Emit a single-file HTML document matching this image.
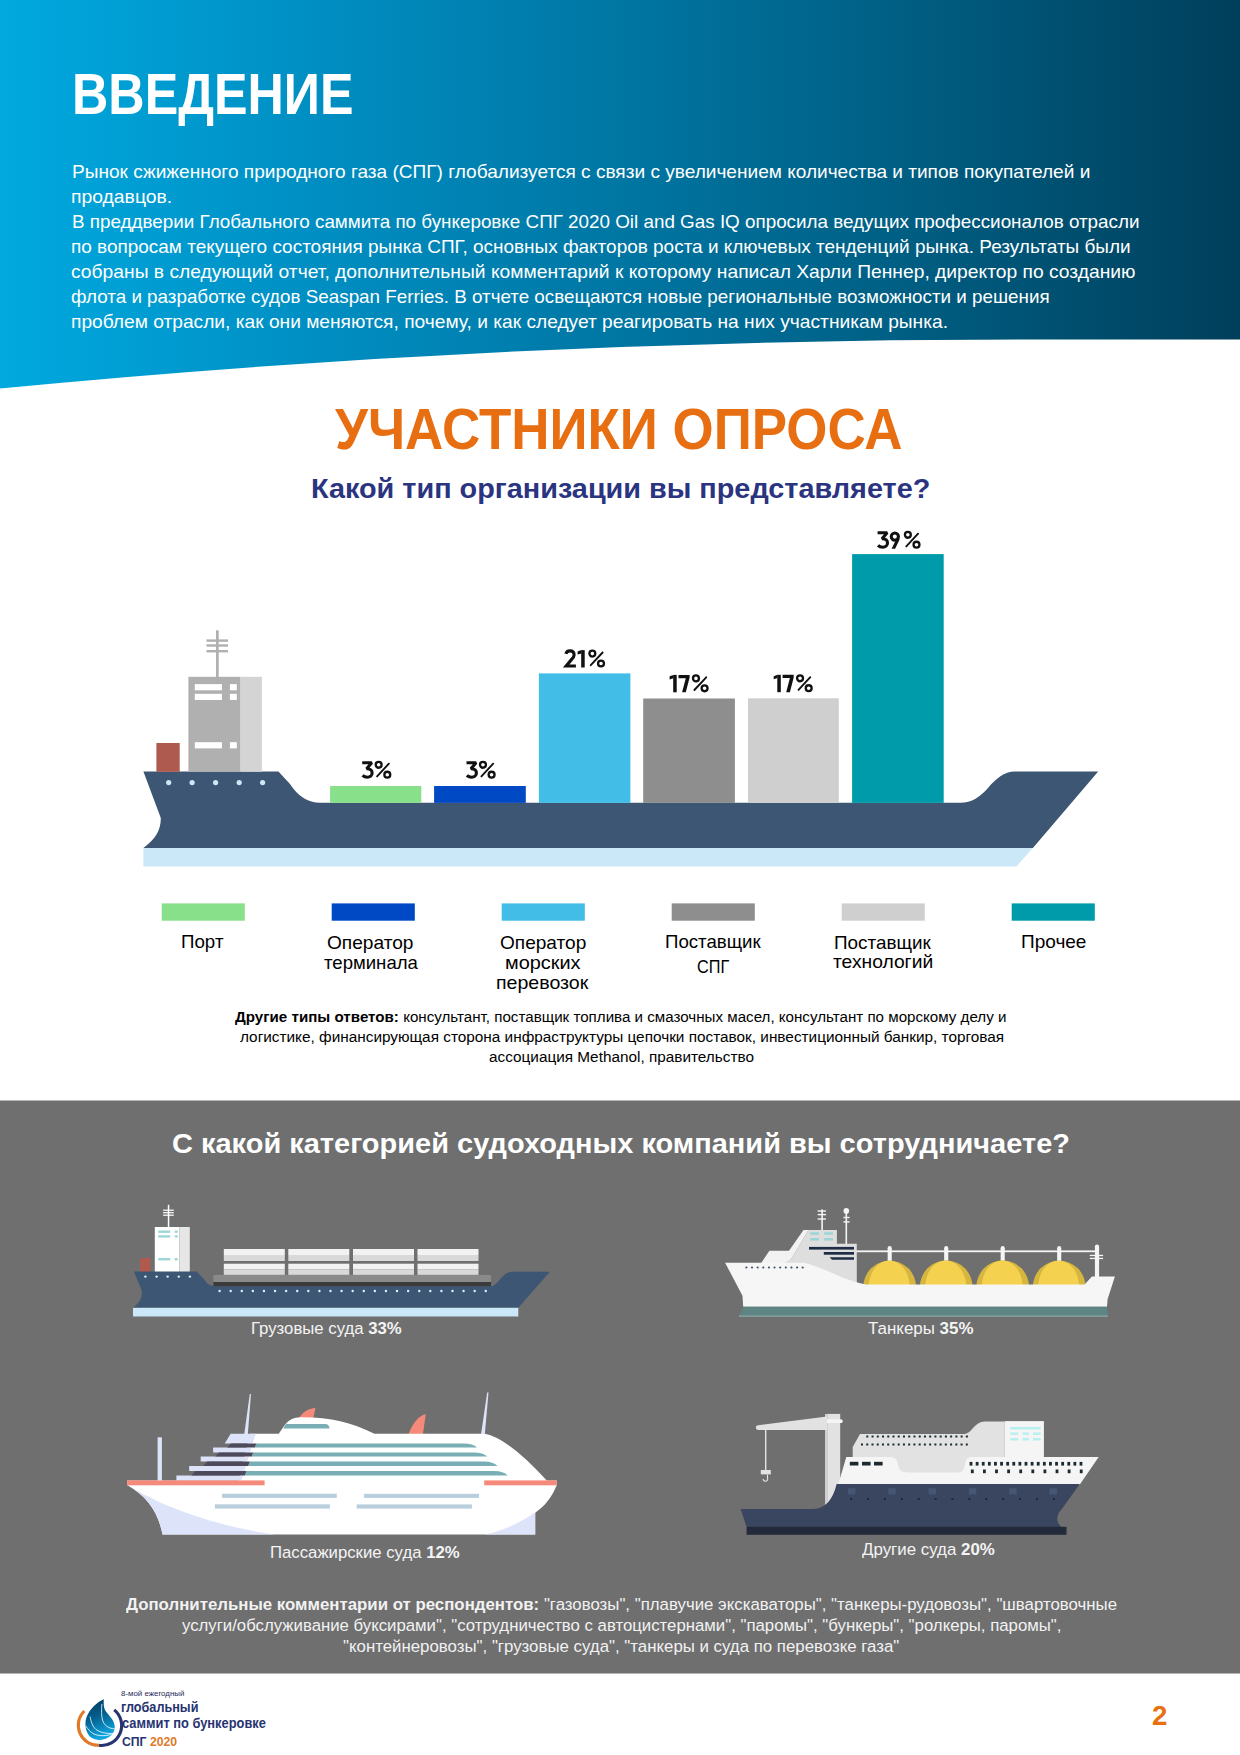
<!DOCTYPE html>
<html><head><meta charset="utf-8"><title>Введение</title>
<style>
html,body{margin:0;padding:0;background:#fff;}
body{width:1240px;height:1755px;position:relative;overflow:hidden;font-family:"Liberation Sans",sans-serif;}
.bg{position:absolute;left:0;top:0;}
.t{position:absolute;white-space:nowrap;line-height:1;transform-origin:0 0;}
</style></head><body>
<svg class="bg" width="1240" height="1755" viewBox="0 0 1240 1755"><defs>
<linearGradient id="hg" x1="0" y1="0" x2="1240" y2="0" gradientUnits="userSpaceOnUse">
<stop offset="0" stop-color="#00A9DF"/><stop offset="0.25" stop-color="#008FC3"/><stop offset="0.5" stop-color="#0076A3"/><stop offset="0.75" stop-color="#005C80"/><stop offset="1" stop-color="#003F5B"/>
</linearGradient>
<linearGradient id="dropg" x1="0" y1="0" x2="0.3" y2="1">
<stop offset="0" stop-color="#00365A"/><stop offset="0.5" stop-color="#035F8E"/><stop offset="1" stop-color="#10A6E0"/>
</linearGradient>
</defs>
<path d="M0,0 H1240 V339.5 H1040 Q510,339 0,388.5 Z" fill="url(#hg)"/>
<path d="M143.4,771.6 H278.4 L290,784 Q302,802.7 320,802.7 H960.3 C972,802.7 980,797 988,788 C996,779 1004,771.6 1015,771.6 H1098.2 L1032.9,847.9 H143.4 C155,840 161,830 160.8,818 L143.4,771.6 Z" fill="#3D5673"/>
<path d="M143.4,848 H1032.9 L1016.3,866.5 H143.4 Z" fill="#CAE8F8"/>
<rect x="216.00" y="630.30" width="2.70" height="46.70" fill="#B0B0B0" />
<rect x="206.50" y="639.40" width="21.50" height="2.40" fill="#B0B0B0" />
<rect x="206.50" y="644.30" width="21.50" height="2.40" fill="#B0B0B0" />
<rect x="206.50" y="650.00" width="21.50" height="2.40" fill="#B0B0B0" />
<rect x="188.40" y="676.80" width="52.20" height="95.00" fill="#B0B0B0" />
<rect x="240.60" y="676.80" width="21.30" height="95.00" fill="#D4D4D4" />
<rect x="194.80" y="684.10" width="27.10" height="6.20" fill="#FFFFFF" />
<rect x="229.90" y="684.10" width="6.90" height="6.20" fill="#FFFFFF" />
<rect x="194.80" y="693.80" width="27.10" height="6.20" fill="#FFFFFF" />
<rect x="229.90" y="693.80" width="6.90" height="6.20" fill="#FFFFFF" />
<rect x="194.80" y="742.20" width="27.10" height="6.20" fill="#FFFFFF" />
<rect x="229.90" y="742.20" width="6.90" height="6.20" fill="#FFFFFF" />
<rect x="156.40" y="743.00" width="23.30" height="28.80" fill="#AF5A4E" />
<circle cx="168.7" cy="782.6" r="2.6" fill="#CAE8F8"/>
<circle cx="192.1" cy="782.6" r="2.6" fill="#CAE8F8"/>
<circle cx="215.6" cy="782.6" r="2.6" fill="#CAE8F8"/>
<circle cx="239.2" cy="782.6" r="2.6" fill="#CAE8F8"/>
<circle cx="262.6" cy="782.6" r="2.6" fill="#CAE8F8"/>
<rect x="330.10" y="786.00" width="91.20" height="16.90" fill="#88E08A" />
<rect x="434.10" y="786.00" width="91.70" height="16.90" fill="#0049C5" />
<rect x="538.90" y="673.40" width="91.50" height="129.50" fill="#42BDE8" />
<rect x="643.20" y="698.50" width="91.70" height="104.40" fill="#8E8E8E" />
<rect x="748.00" y="698.30" width="90.80" height="104.60" fill="#CFCFCF" />
<rect x="852.10" y="554.10" width="91.60" height="248.80" fill="#009BAA" />
<rect x="161.70" y="903.40" width="83.10" height="17.30" fill="#88E08A" />
<rect x="331.70" y="903.40" width="83.10" height="17.30" fill="#0049C5" />
<rect x="501.70" y="903.40" width="83.10" height="17.30" fill="#42BDE8" />
<rect x="671.70" y="903.40" width="83.10" height="17.30" fill="#8E8E8E" />
<rect x="841.70" y="903.40" width="83.10" height="17.30" fill="#CFCFCF" />
<rect x="1011.70" y="903.40" width="83.10" height="17.30" fill="#009BAA" />
<defs>
<g id="d3"><path d="M1.0,-15.9 H10.6 L5.4,-10.0 C9.4,-10.2 10.9,-8 10.9,-5.8 C10.9,-3 8.7,-1.5 6.2,-1.5 C4.2,-1.5 2.6,-2.2 1.4,-3.4" fill="none" stroke="#111" stroke-width="3.1" stroke-linejoin="bevel"/></g>
<g id="d9"><circle cx="5.15" cy="-12.1" r="3.6" fill="none" stroke="#111" stroke-width="3.1"/><path d="M7.2,-10.6 L10.0,-9.4 L5.4,0 H1.9 Z" fill="#111"/></g>
<g id="d2"><path d="M1.7,-13.6 C2.2,-16 4,-16.6 5.8,-16.6 C8.3,-16.6 9.9,-15 9.9,-12.6 C9.9,-10.8 8.9,-9.6 7.4,-8.1 L2.0,-1.55 H11.7" fill="none" stroke="#111" stroke-width="3.1" stroke-linejoin="miter"/></g>
<g id="d1"><rect x="3.9" y="-17.4" width="3.5" height="17.4" fill="#111"/><path d="M0.3,-16.0 L4.2,-17.4 V-14.1 L0.3,-12.9 Z" fill="#111"/></g>
<g id="d7"><path d="M0,-17.4 H11.1 V-14.8 L7.3,0 H3.6 L7.3,-14.1 H0 Z" fill="#111"/></g>
<g id="pc"><circle cx="3.95" cy="-13.9" r="2.95" fill="none" stroke="#111" stroke-width="2.3"/><circle cx="12.6" cy="-4.0" r="2.95" fill="none" stroke="#111" stroke-width="2.3"/><path d="M14.2,-15.0 L2.4,-2.3" stroke="#111" stroke-width="1.9" stroke-linecap="round"/></g>
</defs>
<use href="#d3" x="361.20" y="778.70"/>
<use href="#pc" x="374.70" y="778.70"/>
<use href="#d3" x="465.50" y="778.70"/>
<use href="#pc" x="479.00" y="778.70"/>
<use href="#d2" x="564.20" y="667.50"/>
<use href="#d1" x="577.30" y="667.50"/>
<use href="#pc" x="588.40" y="667.50"/>
<use href="#d1" x="669.30" y="692.30"/>
<use href="#d7" x="678.50" y="692.30"/>
<use href="#pc" x="692.00" y="692.30"/>
<use href="#d1" x="773.40" y="692.20"/>
<use href="#d7" x="782.60" y="692.20"/>
<use href="#pc" x="796.10" y="692.20"/>
<use href="#d3" x="876.60" y="548.70"/>
<use href="#d9" x="889.70" y="548.70"/>
<use href="#pc" x="903.90" y="548.70"/>
<rect x="0.00" y="1100.50" width="1240.00" height="573.00" fill="#6F6F6F" />
<rect x="167.80" y="1204.80" width="1.50" height="22.70" fill="#FFFFFF" />
<rect x="163.10" y="1209.60" width="10.70" height="1.20" fill="#FFFFFF" />
<rect x="163.10" y="1212.10" width="10.70" height="1.20" fill="#FFFFFF" />
<rect x="163.10" y="1214.60" width="10.70" height="1.20" fill="#FFFFFF" />
<rect x="154.80" y="1227.00" width="24.70" height="45.00" fill="#FFFFFF" />
<rect x="179.50" y="1227.00" width="10.30" height="45.00" fill="#E6E6E6" />
<rect x="158.20" y="1230.50" width="12.00" height="2.40" fill="#9ED6D6" />
<rect x="174.70" y="1230.50" width="3.00" height="2.40" fill="#9ED6D6" />
<rect x="158.20" y="1235.20" width="12.00" height="2.40" fill="#9ED6D6" />
<rect x="174.70" y="1235.20" width="3.00" height="2.40" fill="#9ED6D6" />
<rect x="158.20" y="1258.00" width="12.00" height="2.40" fill="#9ED6D6" />
<rect x="174.70" y="1258.00" width="3.00" height="2.40" fill="#9ED6D6" />
<rect x="140.00" y="1258.00" width="10.40" height="14.00" fill="#B05A4E" />
<rect x="223.80" y="1249.00" width="61.00" height="6.00" fill="#F2F2F2" />
<rect x="223.80" y="1255.00" width="61.00" height="6.00" fill="#D9D9D9" />
<rect x="223.80" y="1263.70" width="61.00" height="5.60" fill="#F2F2F2" />
<rect x="223.80" y="1269.30" width="61.00" height="5.60" fill="#D9D9D9" />
<rect x="288.30" y="1249.00" width="61.00" height="6.00" fill="#F2F2F2" />
<rect x="288.30" y="1255.00" width="61.00" height="6.00" fill="#D9D9D9" />
<rect x="288.30" y="1263.70" width="61.00" height="5.60" fill="#F2F2F2" />
<rect x="288.30" y="1269.30" width="61.00" height="5.60" fill="#D9D9D9" />
<rect x="353.00" y="1249.00" width="61.00" height="6.00" fill="#F2F2F2" />
<rect x="353.00" y="1255.00" width="61.00" height="6.00" fill="#D9D9D9" />
<rect x="353.00" y="1263.70" width="61.00" height="5.60" fill="#F2F2F2" />
<rect x="353.00" y="1269.30" width="61.00" height="5.60" fill="#D9D9D9" />
<rect x="417.50" y="1249.00" width="61.00" height="6.00" fill="#F2F2F2" />
<rect x="417.50" y="1255.00" width="61.00" height="6.00" fill="#D9D9D9" />
<rect x="417.50" y="1263.70" width="61.00" height="5.60" fill="#F2F2F2" />
<rect x="417.50" y="1269.30" width="61.00" height="5.60" fill="#D9D9D9" />
<rect x="213.70" y="1274.90" width="277.30" height="7.10" fill="#8A8A8A" />
<rect x="213.70" y="1282.00" width="277.30" height="4.20" fill="#3A3A3A" />
<path d="M133.9,1271.6 H196.9 L204.8,1280.2 Q208,1285.5 213.7,1285.8 H213.7 V1286.2 H491 C498,1286 502,1271.7 512,1271.7 H549.9 L518.3,1307.8 H133 C140,1302 142.5,1298 141.6,1290 Z" fill="#3D5673"/>
<rect x="213.70" y="1275.00" width="277.30" height="7.00" fill="#8A8A8A" />
<rect x="213.70" y="1282.00" width="277.30" height="4.20" fill="#3A3A3A" />
<rect x="133.00" y="1307.80" width="385.30" height="8.70" fill="#CAE8F8" />
<circle cx="145.4" cy="1276.6" r="1.2" fill="#DDF0FA"/>
<circle cx="156.6" cy="1276.6" r="1.2" fill="#DDF0FA"/>
<circle cx="167.6" cy="1276.6" r="1.2" fill="#DDF0FA"/>
<circle cx="178.8" cy="1276.6" r="1.2" fill="#DDF0FA"/>
<circle cx="189.9" cy="1276.6" r="1.2" fill="#DDF0FA"/>
<circle cx="219.60" cy="1291.0" r="1.2" fill="#DDF0FA"/>
<circle cx="230.69" cy="1291.0" r="1.2" fill="#DDF0FA"/>
<circle cx="241.78" cy="1291.0" r="1.2" fill="#DDF0FA"/>
<circle cx="252.87" cy="1291.0" r="1.2" fill="#DDF0FA"/>
<circle cx="263.96" cy="1291.0" r="1.2" fill="#DDF0FA"/>
<circle cx="275.05" cy="1291.0" r="1.2" fill="#DDF0FA"/>
<circle cx="286.14" cy="1291.0" r="1.2" fill="#DDF0FA"/>
<circle cx="297.23" cy="1291.0" r="1.2" fill="#DDF0FA"/>
<circle cx="308.32" cy="1291.0" r="1.2" fill="#DDF0FA"/>
<circle cx="319.41" cy="1291.0" r="1.2" fill="#DDF0FA"/>
<circle cx="330.50" cy="1291.0" r="1.2" fill="#DDF0FA"/>
<circle cx="341.59" cy="1291.0" r="1.2" fill="#DDF0FA"/>
<circle cx="352.68" cy="1291.0" r="1.2" fill="#DDF0FA"/>
<circle cx="363.77" cy="1291.0" r="1.2" fill="#DDF0FA"/>
<circle cx="374.86" cy="1291.0" r="1.2" fill="#DDF0FA"/>
<circle cx="385.95" cy="1291.0" r="1.2" fill="#DDF0FA"/>
<circle cx="397.04" cy="1291.0" r="1.2" fill="#DDF0FA"/>
<circle cx="408.13" cy="1291.0" r="1.2" fill="#DDF0FA"/>
<circle cx="419.22" cy="1291.0" r="1.2" fill="#DDF0FA"/>
<circle cx="430.31" cy="1291.0" r="1.2" fill="#DDF0FA"/>
<circle cx="441.40" cy="1291.0" r="1.2" fill="#DDF0FA"/>
<circle cx="452.49" cy="1291.0" r="1.2" fill="#DDF0FA"/>
<circle cx="463.58" cy="1291.0" r="1.2" fill="#DDF0FA"/>
<circle cx="474.67" cy="1291.0" r="1.2" fill="#DDF0FA"/>
<circle cx="485.76" cy="1291.0" r="1.2" fill="#DDF0FA"/>
<rect x="821.30" y="1209.40" width="1.60" height="21.60" fill="#F5F5F5" />
<rect x="817.70" y="1210.30" width="8.30" height="1.40" fill="#F5F5F5" />
<rect x="817.70" y="1213.90" width="8.30" height="1.40" fill="#F5F5F5" />
<rect x="817.70" y="1218.30" width="8.30" height="1.40" fill="#F5F5F5" />
<rect x="845.50" y="1211.00" width="1.60" height="33.00" fill="#F5F5F5" />
<circle cx="846.3" cy="1210.9" r="2.8" fill="#F5F5F5"/>
<rect x="843.40" y="1216.80" width="6.20" height="1.40" fill="#F5F5F5" />
<rect x="843.40" y="1221.20" width="6.20" height="1.40" fill="#F5F5F5" />
<rect x="856.00" y="1250.40" width="241.00" height="1.80" fill="#F5F5F5" />
<rect x="1094.90" y="1246.50" width="4.20" height="31.50" fill="#F5F5F5" />
<circle cx="1097" cy="1246.6" r="2.1" fill="#F5F5F5"/>
<rect x="1089.80" y="1254.80" width="13.30" height="1.30" fill="#F5F5F5" />
<rect x="1089.80" y="1257.80" width="13.30" height="1.30" fill="#F5F5F5" />
<rect x="887.65" y="1248.00" width="4.10" height="14.00" fill="#F5F5F5" />
<circle cx="889.7" cy="1248" r="2.05" fill="#F5F5F5"/>
<path d="M863.30,1287 A26.4,26.4 0 0 1 916.10,1287 Z" fill="#D6B63F"/>
<path d="M868.70,1287 A20.5,26.4 0 0 1 909.70,1287 Z" fill="#F4D24F"/>
<rect x="944.15" y="1248.00" width="4.10" height="14.00" fill="#F5F5F5" />
<circle cx="946.2" cy="1248" r="2.05" fill="#F5F5F5"/>
<path d="M919.80,1287 A26.4,26.4 0 0 1 972.60,1287 Z" fill="#D6B63F"/>
<path d="M925.20,1287 A20.5,26.4 0 0 1 966.20,1287 Z" fill="#F4D24F"/>
<rect x="1000.65" y="1248.00" width="4.10" height="14.00" fill="#F5F5F5" />
<circle cx="1002.7" cy="1248" r="2.05" fill="#F5F5F5"/>
<path d="M976.30,1287 A26.4,26.4 0 0 1 1029.10,1287 Z" fill="#D6B63F"/>
<path d="M981.70,1287 A20.5,26.4 0 0 1 1022.70,1287 Z" fill="#F4D24F"/>
<rect x="1057.15" y="1248.00" width="4.10" height="14.00" fill="#F5F5F5" />
<circle cx="1059.2" cy="1248" r="2.05" fill="#F5F5F5"/>
<path d="M1032.80,1287 A26.4,26.4 0 0 1 1085.60,1287 Z" fill="#D6B63F"/>
<path d="M1038.20,1287 A20.5,26.4 0 0 1 1079.20,1287 Z" fill="#F4D24F"/>
<path d="M808.5,1230 H836.9 V1243.8 H856.8 V1290 H780 V1263 L791,1259.5 Z" fill="#DEDEDE"/>
<path d="M761.1,1263.2 L769.4,1250.8 H789 L803.5,1230 H808.5 L791,1259.5 L783,1263.2 Z" fill="#F2F2F2"/>
<rect x="810.30" y="1232.20" width="8.70" height="2.60" fill="#9DD5D5" />
<rect x="810.30" y="1238.00" width="8.70" height="2.60" fill="#9DD5D5" />
<rect x="824.20" y="1232.20" width="8.80" height="2.60" fill="#9DD5D5" />
<rect x="824.20" y="1238.00" width="8.80" height="2.60" fill="#9DD5D5" />
<rect x="809.00" y="1246.90" width="45.00" height="2.70" fill="#1E2D45" />
<rect x="823.80" y="1252.00" width="30.20" height="2.70" fill="#1E2D45" />
<path d="M829.6,1257.3 H854 V1259.8 H832 Z" fill="#1E2D45"/>
<path d="M725.1,1262.7 H804.2 C826,1268 842,1280 866,1284.6 H1084.6 L1091.9,1276.4 H1114.9 L1107.6,1299.2 L1107,1306.8 H743.2 L742.5,1295.8 Z" fill="#F6F6F6"/>
<path d="M743.2,1306.7 H1107 L1107.9,1316.5 H738.9 Z" fill="#5E8583"/>
<rect x="738.90" y="1315.60" width="369.00" height="1.00" fill="#9AB0B0" />
<circle cx="746.40" cy="1267.5" r="1.05" fill="#3B4A66"/>
<circle cx="752.03" cy="1267.5" r="1.05" fill="#3B4A66"/>
<circle cx="757.66" cy="1267.5" r="1.05" fill="#3B4A66"/>
<circle cx="763.29" cy="1267.5" r="1.05" fill="#3B4A66"/>
<circle cx="768.92" cy="1267.5" r="1.05" fill="#3B4A66"/>
<circle cx="774.55" cy="1267.5" r="1.05" fill="#3B4A66"/>
<circle cx="780.18" cy="1267.5" r="1.05" fill="#3B4A66"/>
<circle cx="785.81" cy="1267.5" r="1.05" fill="#3B4A66"/>
<circle cx="791.44" cy="1267.5" r="1.05" fill="#3B4A66"/>
<circle cx="797.07" cy="1267.5" r="1.05" fill="#3B4A66"/>
<circle cx="802.70" cy="1267.5" r="1.05" fill="#3B4A66"/>
<path d="M244.2,1434.5 L247.8,1434.5 L251,1393.9 L249.8,1393.9 Z" fill="#DDE4FA"/>
<path d="M481,1434.5 L484.8,1434.5 L488.5,1392.4 L487.2,1392.4 Z" fill="#DDE4FA"/>
<rect x="157.60" y="1437.30" width="4.30" height="43.70" fill="#DDE4FA" />
<path d="M299,1418 C303,1412 308,1408.5 315.5,1408 L313.3,1418 Z" fill="#F58A7A"/>
<path d="M408.4,1434.2 C413,1423 418,1416 425.8,1414 L422.9,1434.2 Z" fill="#F58A7A"/>
<path d="M250,1433.8 H278.8 C285,1425 288,1417.5 300,1417.3 C330,1417 350,1422 374.5,1433.8 H484.8 Q508,1438 546.8,1480.6 L547.5,1482 H238 Z" fill="#FFFFFF"/>
<path d="M230.70,1433.8 H255.70 L252.74,1443.5 H224.70 Z" fill="#DDE4FA"/>
<path d="M213.10,1447.5 H251.52 L250.03,1452.4 H213.10 Z" fill="#DDE4FA"/>
<path d="M200.70,1456.5 H248.78 L247.22,1461.6 H200.70 Z" fill="#DDE4FA"/>
<path d="M189.20,1466.1 H245.85 L244.35,1471.0 H189.20 Z" fill="#DDE4FA"/>
<path d="M176.40,1475.5 H242.98 L241.43,1480.6 H176.40 Z" fill="#DDE4FA"/>
<path d="M231.10,1443.5 H256.60 L255.16,1447.5 H227.10 Z" fill="#4E4A5E"/>
<path d="M256.30,1443.5 H463.60 Q473.10,1443.5 477.10,1447.5 H254.86 Z" fill="#79AEB4"/>
<path d="M219.20,1452.4 H253.40 L251.92,1456.5 H215.20 Z" fill="#4E4A5E"/>
<path d="M253.10,1452.4 H473.70 Q483.20,1452.4 487.20,1456.5 H251.62 Z" fill="#79AEB4"/>
<path d="M207.20,1461.6 H250.08 L248.46,1466.1 H203.20 Z" fill="#4E4A5E"/>
<path d="M249.78,1461.6 H483.90 Q493.40,1461.6 497.40,1466.1 H248.16 Z" fill="#79AEB4"/>
<path d="M195.30,1471.0 H246.70 L245.08,1475.5 H191.30 Z" fill="#4E4A5E"/>
<path d="M246.40,1471.0 H494.20 Q503.70,1471.0 507.70,1475.5 H244.78 Z" fill="#79AEB4"/>
<path d="M286,1424 H325 Q329.4,1424 329.4,1428.5 H283.2 Z" fill="#79AEB4"/>
<path d="M127.1,1480.4 H556.8 V1485 C552,1497 545,1506 535.2,1512.7 V1534.6 H162.6 C158,1512 148,1497 127.1,1485 Z" fill="#FFFFFF"/>
<path d="M130,1486.5 C160,1505 210,1525 274.4,1534.6 H162.6 C158,1512 148,1497 127.1,1485 Z" fill="#DDE4FA"/>
<path d="M484.8,1534.6 C505,1530 522,1522 536.5,1511.5 L535.2,1512.7 V1534.6 Z" fill="#DDE4FA"/>
<rect x="127.10" y="1480.40" width="137.50" height="4.90" fill="#F58A7A" />
<rect x="484.20" y="1480.40" width="72.60" height="4.90" fill="#F58A7A" />
<rect x="222.00" y="1493.70" width="114.80" height="4.20" fill="#B9CFDD" />
<rect x="363.90" y="1493.80" width="115.10" height="4.10" fill="#B9CFDD" />
<rect x="214.90" y="1504.30" width="115.00" height="4.30" fill="#B9CFDD" />
<rect x="356.70" y="1504.40" width="115.20" height="4.20" fill="#B9CFDD" />
<rect x="827.00" y="1413.90" width="13.20" height="92.10" fill="#E2E2E2" />
<rect x="825.00" y="1414.00" width="3.00" height="92.00" fill="#D0D0D0" />
<rect x="824" y="1419.2" width="18.7" height="3.9" rx="1.9" fill="#F5F5F5"/>
<path d="M758.2,1425.2 L827,1416.6 V1430 H758.2 A2.3,2.3 0 0 1 758.2,1425.2 Z" fill="#E2E2E2"/>
<rect x="765.00" y="1430.00" width="1.40" height="40.50" fill="#E2E2E2" />
<rect x="760.80" y="1470.00" width="10.00" height="4.40" fill="#E2E2E2" />
<path d="M767.5,1474.4 V1478 A2.3,2.3 0 1 1 763.1,1479" fill="none" stroke="#E2E2E2" stroke-width="1.1"/>
<path d="M852.7,1490 V1447 L860,1434 H964.5 C972,1434 974,1421.6 985,1421.6 H1004.8 V1480 H852.7 Z" fill="#E2E2E2"/>
<rect x="1004.80" y="1421.10" width="39.10" height="36.40" fill="#F5F5F5" />
<rect x="1010.20" y="1427.00" width="30.60" height="2.50" fill="#B8F0F0" />
<rect x="1010.20" y="1432.40" width="8.00" height="2.50" fill="#B8F0F0" />
<rect x="1010.20" y="1438.00" width="8.00" height="2.50" fill="#B8F0F0" />
<rect x="1022.60" y="1432.40" width="6.40" height="2.50" fill="#B8F0F0" />
<rect x="1022.60" y="1438.00" width="6.40" height="2.50" fill="#B8F0F0" />
<rect x="1033.00" y="1432.40" width="7.80" height="2.50" fill="#B8F0F0" />
<rect x="1033.00" y="1438.00" width="7.80" height="2.50" fill="#B8F0F0" />
<rect x="866.30" y="1435.50" width="2.00" height="2.00" fill="#1C2A30" />
<rect x="871.54" y="1435.50" width="2.00" height="2.00" fill="#1C2A30" />
<rect x="876.78" y="1435.50" width="2.00" height="2.00" fill="#1C2A30" />
<rect x="882.02" y="1435.50" width="2.00" height="2.00" fill="#1C2A30" />
<rect x="887.26" y="1435.50" width="2.00" height="2.00" fill="#1C2A30" />
<rect x="892.50" y="1435.50" width="2.00" height="2.00" fill="#1C2A30" />
<rect x="897.74" y="1435.50" width="2.00" height="2.00" fill="#1C2A30" />
<rect x="902.98" y="1435.50" width="2.00" height="2.00" fill="#1C2A30" />
<rect x="908.22" y="1435.50" width="2.00" height="2.00" fill="#1C2A30" />
<rect x="913.46" y="1435.50" width="2.00" height="2.00" fill="#1C2A30" />
<rect x="918.70" y="1435.50" width="2.00" height="2.00" fill="#1C2A30" />
<rect x="923.94" y="1435.50" width="2.00" height="2.00" fill="#1C2A30" />
<rect x="929.18" y="1435.50" width="2.00" height="2.00" fill="#1C2A30" />
<rect x="934.42" y="1435.50" width="2.00" height="2.00" fill="#1C2A30" />
<rect x="939.66" y="1435.50" width="2.00" height="2.00" fill="#1C2A30" />
<rect x="944.90" y="1435.50" width="2.00" height="2.00" fill="#1C2A30" />
<rect x="950.14" y="1435.50" width="2.00" height="2.00" fill="#1C2A30" />
<rect x="955.38" y="1435.50" width="2.00" height="2.00" fill="#1C2A30" />
<rect x="960.62" y="1435.50" width="2.00" height="2.00" fill="#1C2A30" />
<rect x="965.86" y="1435.50" width="2.00" height="2.00" fill="#1C2A30" />
<rect x="861.00" y="1443.50" width="2.00" height="2.00" fill="#1C2A30" />
<rect x="866.24" y="1443.50" width="2.00" height="2.00" fill="#1C2A30" />
<rect x="871.48" y="1443.50" width="2.00" height="2.00" fill="#1C2A30" />
<rect x="876.72" y="1443.50" width="2.00" height="2.00" fill="#1C2A30" />
<rect x="881.96" y="1443.50" width="2.00" height="2.00" fill="#1C2A30" />
<rect x="887.20" y="1443.50" width="2.00" height="2.00" fill="#1C2A30" />
<rect x="892.44" y="1443.50" width="2.00" height="2.00" fill="#1C2A30" />
<rect x="897.68" y="1443.50" width="2.00" height="2.00" fill="#1C2A30" />
<rect x="902.92" y="1443.50" width="2.00" height="2.00" fill="#1C2A30" />
<rect x="908.16" y="1443.50" width="2.00" height="2.00" fill="#1C2A30" />
<rect x="913.40" y="1443.50" width="2.00" height="2.00" fill="#1C2A30" />
<rect x="918.64" y="1443.50" width="2.00" height="2.00" fill="#1C2A30" />
<rect x="923.88" y="1443.50" width="2.00" height="2.00" fill="#1C2A30" />
<rect x="929.12" y="1443.50" width="2.00" height="2.00" fill="#1C2A30" />
<rect x="934.36" y="1443.50" width="2.00" height="2.00" fill="#1C2A30" />
<rect x="939.60" y="1443.50" width="2.00" height="2.00" fill="#1C2A30" />
<rect x="944.84" y="1443.50" width="2.00" height="2.00" fill="#1C2A30" />
<rect x="950.08" y="1443.50" width="2.00" height="2.00" fill="#1C2A30" />
<rect x="955.32" y="1443.50" width="2.00" height="2.00" fill="#1C2A30" />
<rect x="960.56" y="1443.50" width="2.00" height="2.00" fill="#1C2A30" />
<rect x="965.80" y="1443.50" width="2.00" height="2.00" fill="#1C2A30" />
<path d="M838.2,1484.5 L846.3,1457 H889.8 C896,1457 897,1460 898,1465 C899.5,1471 902,1472.4 908,1472.4 H957 C963,1472.4 964,1470 965,1465 C966,1459 967,1457 972,1457 H1098.7 L1079.8,1484.5 Z" fill="#F5F5F5"/>
<rect x="849.80" y="1461.80" width="8.60" height="3.70" fill="#1C2A30" />
<rect x="862.00" y="1461.80" width="8.60" height="3.70" fill="#1C2A30" />
<rect x="874.00" y="1461.80" width="8.60" height="3.70" fill="#1C2A30" />
<rect x="969.60" y="1461.90" width="2.80" height="3.70" fill="#1C2A30" />
<rect x="975.71" y="1461.90" width="2.80" height="3.70" fill="#1C2A30" />
<rect x="981.82" y="1461.90" width="2.80" height="3.70" fill="#1C2A30" />
<rect x="987.93" y="1461.90" width="2.80" height="3.70" fill="#1C2A30" />
<rect x="994.04" y="1461.90" width="2.80" height="3.70" fill="#1C2A30" />
<rect x="1000.15" y="1461.90" width="2.80" height="3.70" fill="#1C2A30" />
<rect x="1006.26" y="1461.90" width="2.80" height="3.70" fill="#1C2A30" />
<rect x="1012.37" y="1461.90" width="2.80" height="3.70" fill="#1C2A30" />
<rect x="1018.48" y="1461.90" width="2.80" height="3.70" fill="#1C2A30" />
<rect x="1024.59" y="1461.90" width="2.80" height="3.70" fill="#1C2A30" />
<rect x="1030.70" y="1461.90" width="2.80" height="3.70" fill="#1C2A30" />
<rect x="1036.81" y="1461.90" width="2.80" height="3.70" fill="#1C2A30" />
<rect x="1042.92" y="1461.90" width="2.80" height="3.70" fill="#1C2A30" />
<rect x="1049.03" y="1461.90" width="2.80" height="3.70" fill="#1C2A30" />
<rect x="1055.14" y="1461.90" width="2.80" height="3.70" fill="#1C2A30" />
<rect x="1061.25" y="1461.90" width="2.80" height="3.70" fill="#1C2A30" />
<rect x="1067.36" y="1461.90" width="2.80" height="3.70" fill="#1C2A30" />
<rect x="1073.47" y="1461.90" width="2.80" height="3.70" fill="#1C2A30" />
<rect x="1079.58" y="1461.90" width="2.80" height="3.70" fill="#1C2A30" />
<rect x="970.90" y="1469.50" width="2.80" height="3.70" fill="#1C2A30" />
<rect x="983.00" y="1469.50" width="2.80" height="3.70" fill="#1C2A30" />
<rect x="995.10" y="1469.50" width="2.80" height="3.70" fill="#1C2A30" />
<rect x="1007.20" y="1469.50" width="2.80" height="3.70" fill="#1C2A30" />
<rect x="1019.30" y="1469.50" width="2.80" height="3.70" fill="#1C2A30" />
<rect x="1031.40" y="1469.50" width="2.80" height="3.70" fill="#1C2A30" />
<rect x="1043.50" y="1469.50" width="2.80" height="3.70" fill="#1C2A30" />
<rect x="1055.60" y="1469.50" width="2.80" height="3.70" fill="#1C2A30" />
<rect x="1067.70" y="1469.50" width="2.80" height="3.70" fill="#1C2A30" />
<rect x="1079.80" y="1469.50" width="2.80" height="3.70" fill="#1C2A30" />
<path d="M740.6,1509 H812.4 C828,1509 834,1495 836.6,1484 H1079.8 L1061.3,1509.8 C1056,1515 1056,1522 1061.3,1527 H746.6 Z" fill="#3A4560"/>
<rect x="746.60" y="1526.80" width="319.90" height="8.00" fill="#232A3A" />
<rect x="847.90" y="1488.30" width="7.50" height="6.20" fill="#475673" />
<rect x="888.20" y="1488.30" width="7.50" height="6.20" fill="#475673" />
<rect x="928.50" y="1488.30" width="7.50" height="6.20" fill="#475673" />
<rect x="968.80" y="1488.30" width="7.50" height="6.20" fill="#475673" />
<rect x="1009.10" y="1488.30" width="7.50" height="6.20" fill="#475673" />
<rect x="1049.40" y="1488.30" width="7.50" height="6.20" fill="#475673" />
<rect x="850.10" y="1498.00" width="2.00" height="2.00" fill="#1C2A30" />
<rect x="867.00" y="1498.00" width="2.00" height="2.00" fill="#1C2A30" />
<rect x="883.90" y="1498.00" width="2.00" height="2.00" fill="#1C2A30" />
<rect x="900.80" y="1498.00" width="2.00" height="2.00" fill="#1C2A30" />
<rect x="917.70" y="1498.00" width="2.00" height="2.00" fill="#1C2A30" />
<rect x="934.60" y="1498.00" width="2.00" height="2.00" fill="#1C2A30" />
<rect x="951.50" y="1498.00" width="2.00" height="2.00" fill="#1C2A30" />
<rect x="968.40" y="1498.00" width="2.00" height="2.00" fill="#1C2A30" />
<rect x="985.30" y="1498.00" width="2.00" height="2.00" fill="#1C2A30" />
<rect x="1002.20" y="1498.00" width="2.00" height="2.00" fill="#1C2A30" />
<rect x="1019.10" y="1498.00" width="2.00" height="2.00" fill="#1C2A30" />
<rect x="1036.00" y="1498.00" width="2.00" height="2.00" fill="#1C2A30" />
<rect x="1052.90" y="1498.00" width="2.00" height="2.00" fill="#1C2A30" />
<path d="M84.3,1711.0 A20,20 0 0 0 99.0,1745.3" fill="none" stroke="#E07A2A" stroke-width="3.1"/>
<path d="M99.0,1745.3 A20,20 0 0 0 114.2,1709.9" fill="none" stroke="#273470" stroke-width="3.1"/>
<path d="M103.8,1699.2 C97,1702 90,1709 87,1716 C84.5,1722 84.8,1730 89.3,1735.9 C92,1738.8 96,1739.9 100,1739.9 C108,1739.8 114.8,1734 114.8,1727 C114.8,1720 108,1715 105,1710 C103.5,1707 103.6,1702 103.8,1699.2 Z" fill="url(#dropg)"/>
<path d="M101.8,1704.1 C101.5,1710 101.3,1716 102.5,1720 C104,1725 108,1728.5 114.6,1728.8" fill="none" stroke="#fff" stroke-width="0.8"/>
<path d="M90.1,1716.6 C91,1721 92,1726 96,1729.5 C101,1733 108,1733.8 114.3,1733.5" fill="none" stroke="#fff" stroke-width="0.8"/>
<path d="M85.7,1725.9 C88,1729 90,1732 94,1734 C99,1736.3 106,1736 111.5,1734.3" fill="none" stroke="#fff" stroke-width="0.8"/></svg>
<div class="t" style="left:72.00px;top:66px;font-size:57.4px;font-weight:700;color:#fff;transform:scaleX(0.8762);">ВВЕДЕНИЕ</div>
<div class="t" style="left:71.56px;top:163px;font-size:18.4px;font-weight:400;color:#fff;transform:scaleX(1.0368);">Рынок сжиженного природного газа (СПГ) глобализуется с связи с увеличением количества и типов покупателей и</div>
<div class="t" style="left:71.35px;top:188px;font-size:18.4px;font-weight:400;color:#fff;transform:scaleX(1.0521);">продавцов.</div>
<div class="t" style="left:71.58px;top:213px;font-size:18.4px;font-weight:400;color:#fff;transform:scaleX(1.0240);">В преддверии Глобального саммита по бункеровке СПГ 2020 Oil and Gas IQ опросила ведущих профессионалов отрасли</div>
<div class="t" style="left:71.17px;top:238px;font-size:18.4px;font-weight:400;color:#fff;transform:scaleX(1.0310);">по вопросам текущего состояния рынка СПГ, основных факторов роста и ключевых тенденций рынка. Результаты были</div>
<div class="t" style="left:71.15px;top:263px;font-size:18.4px;font-weight:400;color:#fff;transform:scaleX(1.0469);">собраны в следующий отчет, дополнительный комментарий к которому написал Харли Пеннер, директор по созданию</div>
<div class="t" style="left:71.18px;top:288px;font-size:18.4px;font-weight:400;color:#fff;transform:scaleX(1.0227);">флота и разработке судов Seaspan Ferries. В отчете освещаются новые региональные возможности и решения</div>
<div class="t" style="left:71.16px;top:313px;font-size:18.4px;font-weight:400;color:#fff;transform:scaleX(1.0427);">проблем отрасли, как они меняются, почему, и как следует реагировать на них участникам рынка.</div>
<div class="t" style="left:335.00px;top:401px;font-size:57.6px;font-weight:700;color:#E86E12;transform:scaleX(0.9188);">УЧАСТНИКИ ОПРОСА</div>
<div class="t" style="left:310.86px;top:474px;font-size:28.3px;font-weight:700;color:#2A3480;transform:scaleX(1.0183);">Какой тип организации вы представляете?</div>
<div class="t" style="left:181.29px;top:933px;font-size:18.5px;font-weight:400;color:#000;transform:scaleX(1.0122);">Порт</div>
<div class="t" style="left:327.27px;top:934px;font-size:18.5px;font-weight:400;color:#000;transform:scaleX(1.0329);">Оператор</div>
<div class="t" style="left:323.80px;top:954px;font-size:18.5px;font-weight:400;color:#000;transform:scaleX(1.0043);">терминала</div>
<div class="t" style="left:499.67px;top:934px;font-size:18.5px;font-weight:400;color:#000;transform:scaleX(1.0305);">Оператор</div>
<div class="t" style="left:504.62px;top:954px;font-size:18.5px;font-weight:400;color:#000;transform:scaleX(1.0754);">морских</div>
<div class="t" style="left:496.14px;top:974px;font-size:18.5px;font-weight:400;color:#000;transform:scaleX(1.0581);">перевозок</div>
<div class="t" style="left:665.39px;top:933px;font-size:18.5px;font-weight:400;color:#000;transform:scaleX(1.0085);">Поставщик</div>
<div class="t" style="left:697.12px;top:958px;font-size:18.5px;font-weight:400;color:#000;transform:scaleX(0.8778);">СПГ</div>
<div class="t" style="left:833.68px;top:934px;font-size:18.5px;font-weight:400;color:#000;transform:scaleX(1.0202);">Поставщик</div>
<div class="t" style="left:832.90px;top:953px;font-size:18.5px;font-weight:400;color:#000;transform:scaleX(1.0411);">технологий</div>
<div class="t" style="left:1020.57px;top:933px;font-size:18.5px;font-weight:400;color:#000;transform:scaleX(1.0274);">Прочее</div>
<div class="t" style="left:234.70px;top:1009px;font-size:15.3px;font-weight:400;color:#000;transform:scaleX(0.9897);"><b>Другие типы ответов:</b> консультант, поставщик топлива и смазочных масел, консультант по морскому делу и</div>
<div class="t" style="left:239.50px;top:1029px;font-size:15.3px;font-weight:400;color:#000;transform:scaleX(1.0030);">логистике, финансирующая сторона инфраструктуры цепочки поставок, инвестиционный банкир, торговая</div>
<div class="t" style="left:488.70px;top:1049px;font-size:15.3px;font-weight:400;color:#000;transform:scaleX(1.0023);">ассоциация Methanol, правительство</div>
<div class="t" style="left:172.28px;top:1129px;font-size:28.3px;font-weight:700;color:#fff;transform:scaleX(1.0238);">С какой категорией судоходных компаний вы сотрудничаете?</div>
<div class="t" style="left:251.30px;top:1321px;font-size:16.8px;font-weight:400;color:#f4f4f4;transform:scaleX(0.9973);">Грузовые суда <b>33%</b></div>
<div class="t" style="left:868.40px;top:1321px;font-size:16.8px;font-weight:400;color:#f4f4f4;transform:scaleX(1.0077);">Танкеры <b>35%</b></div>
<div class="t" style="left:269.50px;top:1545px;font-size:16.8px;font-weight:400;color:#f4f4f4;transform:scaleX(0.9974);">Пассажирские суда <b>12%</b></div>
<div class="t" style="left:862.30px;top:1542px;font-size:16.8px;font-weight:400;color:#f4f4f4;transform:scaleX(1.0068);">Другие суда <b>20%</b></div>
<div class="t" style="left:125.80px;top:1597px;font-size:16.67px;font-weight:400;color:#f2f2f2;transform:scaleX(1.0098);"><b>Дополнительные комментарии от респондентов:</b> "газовозы", "плавучие экскаваторы", "танкеры-рудовозы", "швартовочные</div>
<div class="t" style="left:181.60px;top:1618px;font-size:16.67px;font-weight:400;color:#f2f2f2;transform:scaleX(1.0064);">услуги/обслуживание буксирами", "сотрудничество с автоцистернами", "паромы", "бункеры", "ролкеры, паромы",</div>
<div class="t" style="left:343.19px;top:1639px;font-size:16.67px;font-weight:400;color:#f2f2f2;transform:scaleX(1.0104);">"контейнеровозы", "грузовые суда", "танкеры и суда по перевозке газа"</div>
<div class="t" style="left:121.20px;top:1690px;font-size:8.0px;font-weight:400;color:#1f2a5a;transform:scaleX(0.9859);">8-мой ежегодный</div>
<div class="t" style="left:120.58px;top:1701px;font-size:13.8px;font-weight:700;color:#273470;transform:scaleX(0.9169);">глобальный</div>
<div class="t" style="left:121.50px;top:1717px;font-size:13.8px;font-weight:700;color:#273470;transform:scaleX(0.9318);">саммит по бункеровке</div>
<div class="t" style="left:121.50px;top:1736px;font-size:12.8px;font-weight:700;color:#273470;transform:scaleX(0.9544);">СПГ <span style="color:#E07A2A">2020</span></div>
<div class="t" style="left:1152.03px;top:1701px;font-size:28.5px;font-weight:700;color:#E8700F;transform:scaleX(0.9714);">2</div>
</body></html>
